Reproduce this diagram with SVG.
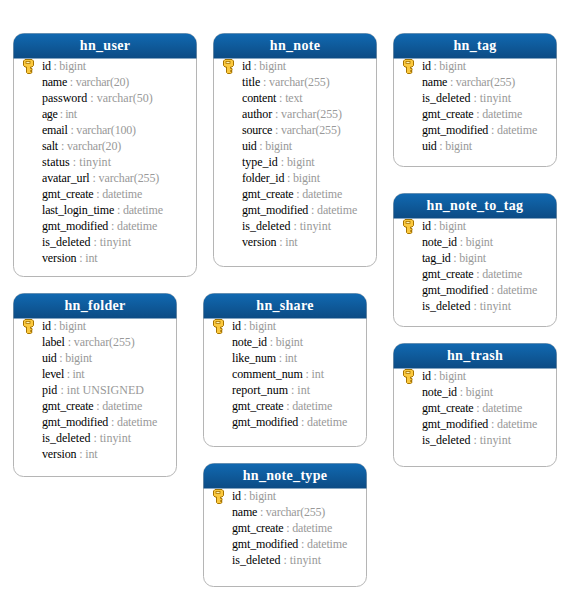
<svg xmlns="http://www.w3.org/2000/svg" width="570" height="600" viewBox="0 0 570 600">
<style>
text{font-family:"Liberation Serif","Times New Roman",serif;font-size:12px;fill:#000}
.t{font-weight:bold;font-size:14px;fill:#fff;text-anchor:middle;letter-spacing:.3px}
.y{fill:#999}
.b{fill:#fff;stroke:#b5b5b5;stroke-width:1}
</style>
<defs>
<linearGradient id="h" x1="0" y1="0" x2="0" y2="1"><stop offset="0" stop-color="#1169b1"/><stop offset="1" stop-color="#0c4b84"/></linearGradient>
<g id="k"><path d="M-3.500 0h7l1.500 1.500v4.500l-1.500 1.500H2v1.500H3.500V11H2v1H3.500v1L2 14H-1L-2 13V7.500H-3.500L-5 6V1.500z" fill="#fbc93f" stroke="#a87400" stroke-width="1"/><rect x="-2.500" y="2" width="4" height="2" fill="#fff3b8" stroke="#a87400" stroke-width=".8"/></g>
<path id="hd" d="M0 25V10A10 10 0 0 1 10 0H153A10 10 0 0 1 163 10V25Z" fill="url(#h)"/>
<path id="hw" d="M0 25V10A10 10 0 0 1 10 0H173A10 10 0 0 1 183 10V25Z" fill="url(#h)"/>
</defs>
<g id="connectors"/>
<g id="hn_user" transform="translate(13.500 33.500)">
<rect class="b" width="183" height="243" rx="10"/><use href="#hw"/>
<text class="t" x="91.500" y="16">hn_user</text><use href="#k" x="15" y="26"/>
<text x="28.500" y="36" textLength="44">id<tspan class="y"> : bigint</tspan></text>
<text x="28.500" y="52" textLength="87.300">name<tspan class="y"> : varchar(20)</tspan></text>
<text x="28.500" y="68" textLength="110.700">password<tspan class="y"> : varchar(50)</tspan></text>
<text x="28.500" y="84" textLength="35">age<tspan class="y"> : int</tspan></text>
<text x="28.500" y="100" textLength="94">email<tspan class="y"> : varchar(100)</tspan></text>
<text x="28.500" y="116" textLength="79.300">salt<tspan class="y"> : varchar(20)</tspan></text>
<text x="28.500" y="132" textLength="69">status<tspan class="y"> : tinyint</tspan></text>
<text x="28.500" y="148" textLength="117.300">avatar_url<tspan class="y"> : varchar(255)</tspan></text>
<text x="28.500" y="164" textLength="100.300">gmt_create<tspan class="y"> : datetime</tspan></text>
<text x="28.500" y="180" textLength="121">last_login_time<tspan class="y"> : datetime</tspan></text>
<text x="28.500" y="196" textLength="115.300">gmt_modified<tspan class="y"> : datetime</tspan></text>
<text x="28.500" y="212" textLength="89">is_deleted<tspan class="y"> : tinyint</tspan></text>
<text x="28.500" y="228" textLength="55.700">version<tspan class="y"> : int</tspan></text>
</g>
<g id="hn_note" transform="translate(213.500 33.500)">
<rect class="b" width="163" height="233" rx="10"/><use href="#hd"/>
<text class="t" x="81.500" y="16">hn_note</text><use href="#k" x="15" y="26"/>
<text x="28.500" y="36" textLength="44">id<tspan class="y"> : bigint</tspan></text>
<text x="28.500" y="52" textLength="87.700">title<tspan class="y"> : varchar(255)</tspan></text>
<text x="28.500" y="68" textLength="60.700">content<tspan class="y"> : text</tspan></text>
<text x="28.500" y="84" textLength="100">author<tspan class="y"> : varchar(255)</tspan></text>
<text x="28.500" y="100" textLength="98.700">source<tspan class="y"> : varchar(255)</tspan></text>
<text x="28.500" y="116" textLength="50">uid<tspan class="y"> : bigint</tspan></text>
<text x="28.500" y="132" textLength="72.700">type_id<tspan class="y"> : bigint</tspan></text>
<text x="28.500" y="148" textLength="78">folder_id<tspan class="y"> : bigint</tspan></text>
<text x="28.500" y="164" textLength="100.300">gmt_create<tspan class="y"> : datetime</tspan></text>
<text x="28.500" y="180" textLength="115.300">gmt_modified<tspan class="y"> : datetime</tspan></text>
<text x="28.500" y="196" textLength="89">is_deleted<tspan class="y"> : tinyint</tspan></text>
<text x="28.500" y="212" textLength="55.700">version<tspan class="y"> : int</tspan></text>
</g>
<g id="hn_tag" transform="translate(393.500 33.500)">
<rect class="b" width="163" height="133" rx="10"/><use href="#hd"/>
<text class="t" x="81.500" y="16">hn_tag</text><use href="#k" x="15" y="26"/>
<text x="28.500" y="36" textLength="44">id<tspan class="y"> : bigint</tspan></text>
<text x="28.500" y="52" textLength="93.300">name<tspan class="y"> : varchar(255)</tspan></text>
<text x="28.500" y="68" textLength="89">is_deleted<tspan class="y"> : tinyint</tspan></text>
<text x="28.500" y="84" textLength="100.300">gmt_create<tspan class="y"> : datetime</tspan></text>
<text x="28.500" y="100" textLength="115.300">gmt_modified<tspan class="y"> : datetime</tspan></text>
<text x="28.500" y="116" textLength="50">uid<tspan class="y"> : bigint</tspan></text>
</g>
<g id="hn_note_to_tag" transform="translate(393.500 193.500)">
<rect class="b" width="163" height="133" rx="10"/><use href="#hd"/>
<text class="t" x="81.500" y="16">hn_note_to_tag</text><use href="#k" x="15" y="26"/>
<text x="28.500" y="36" textLength="44">id<tspan class="y"> : bigint</tspan></text>
<text x="28.500" y="52" textLength="71">note_id<tspan class="y"> : bigint</tspan></text>
<text x="28.500" y="68" textLength="64">tag_id<tspan class="y"> : bigint</tspan></text>
<text x="28.500" y="84" textLength="100.300">gmt_create<tspan class="y"> : datetime</tspan></text>
<text x="28.500" y="100" textLength="115.300">gmt_modified<tspan class="y"> : datetime</tspan></text>
<text x="28.500" y="116" textLength="89">is_deleted<tspan class="y"> : tinyint</tspan></text>
</g>
<g id="hn_trash" transform="translate(393.500 343.500)">
<rect class="b" width="163" height="123" rx="10"/><use href="#hd"/>
<text class="t" x="81.500" y="16">hn_trash</text><use href="#k" x="15" y="26"/>
<text x="28.500" y="36" textLength="44">id<tspan class="y"> : bigint</tspan></text>
<text x="28.500" y="52" textLength="71">note_id<tspan class="y"> : bigint</tspan></text>
<text x="28.500" y="68" textLength="100.300">gmt_create<tspan class="y"> : datetime</tspan></text>
<text x="28.500" y="84" textLength="115.300">gmt_modified<tspan class="y"> : datetime</tspan></text>
<text x="28.500" y="100" textLength="89">is_deleted<tspan class="y"> : tinyint</tspan></text>
</g>
<g id="hn_folder" transform="translate(13.500 293.500)">
<rect class="b" width="163" height="183" rx="10"/><use href="#hd"/>
<text class="t" x="81.500" y="16">hn_folder</text><use href="#k" x="15" y="26"/>
<text x="28.500" y="36" textLength="44">id<tspan class="y"> : bigint</tspan></text>
<text x="28.500" y="52" textLength="92.700">label<tspan class="y"> : varchar(255)</tspan></text>
<text x="28.500" y="68" textLength="50">uid<tspan class="y"> : bigint</tspan></text>
<text x="28.500" y="84" textLength="42.700">level<tspan class="y"> : int</tspan></text>
<text x="28.500" y="100" textLength="102">pid<tspan class="y"> : int UNSIGNED</tspan></text>
<text x="28.500" y="116" textLength="100.300">gmt_create<tspan class="y"> : datetime</tspan></text>
<text x="28.500" y="132" textLength="115.300">gmt_modified<tspan class="y"> : datetime</tspan></text>
<text x="28.500" y="148" textLength="89">is_deleted<tspan class="y"> : tinyint</tspan></text>
<text x="28.500" y="164" textLength="55.700">version<tspan class="y"> : int</tspan></text>
</g>
<g id="hn_share" transform="translate(203.500 293.500)">
<rect class="b" width="163" height="153" rx="10"/><use href="#hd"/>
<text class="t" x="81.500" y="16">hn_share</text><use href="#k" x="15" y="26"/>
<text x="28.500" y="36" textLength="44">id<tspan class="y"> : bigint</tspan></text>
<text x="28.500" y="52" textLength="71">note_id<tspan class="y"> : bigint</tspan></text>
<text x="28.500" y="68" textLength="65">like_num<tspan class="y"> : int</tspan></text>
<text x="28.500" y="84" textLength="92">comment_num<tspan class="y"> : int</tspan></text>
<text x="28.500" y="100" textLength="78">report_num<tspan class="y"> : int</tspan></text>
<text x="28.500" y="116" textLength="100.300">gmt_create<tspan class="y"> : datetime</tspan></text>
<text x="28.500" y="132" textLength="115.300">gmt_modified<tspan class="y"> : datetime</tspan></text>
</g>
<g id="hn_note_type" transform="translate(203.500 463.500)">
<rect class="b" width="163" height="123" rx="10"/><use href="#hd"/>
<text class="t" x="81.500" y="16">hn_note_type</text><use href="#k" x="15" y="26"/>
<text x="28.500" y="36" textLength="44">id<tspan class="y"> : bigint</tspan></text>
<text x="28.500" y="52" textLength="93.300">name<tspan class="y"> : varchar(255)</tspan></text>
<text x="28.500" y="68" textLength="100.300">gmt_create<tspan class="y"> : datetime</tspan></text>
<text x="28.500" y="84" textLength="115.300">gmt_modified<tspan class="y"> : datetime</tspan></text>
<text x="28.500" y="100" textLength="89">is_deleted<tspan class="y"> : tinyint</tspan></text>
</g>
</svg>
